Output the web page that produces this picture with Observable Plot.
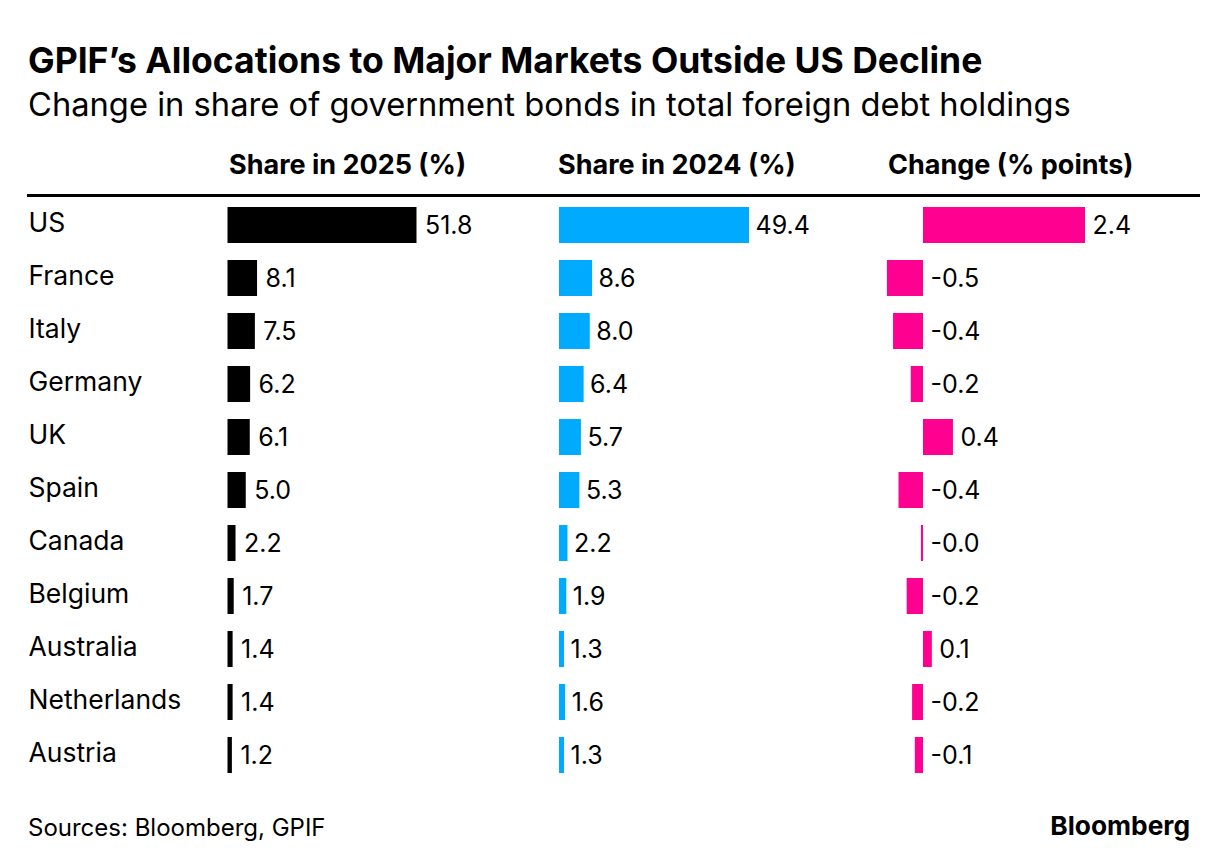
<!DOCTYPE html>
<html>
<head>
<meta charset="utf-8">
<script src="https://cdn.jsdelivr.net/npm/d3@7"></script>
<script src="https://cdn.jsdelivr.net/npm/@observablehq/plot@0.6"></script>
<style>
  html, body { margin: 0; padding: 0; background: #fff; }
  body { width: 1228px; height: 868px; position: relative; overflow: hidden;
         font-family: Inter, "Liberation Sans", Arial, sans-serif; color: #000; }
  .abs { position: absolute; white-space: nowrap; }
  #title { left: 28px; top: 43px; font-size: 35.5px; line-height: 35.5px; font-weight: bold; }
  #subtitle { left: 28px; top: 88px; font-size: 32.7px; line-height: 32.7px; }
  .colhead { top: 151px; font-size: 27px; line-height: 27px; font-weight: bold; }
  #rule { left: 27px; top: 194px; width: 1173px; height: 3px; background: #000; }
  #source { left: 28px; top: 816px; font-size: 24px; line-height: 24px; }
  #brand { right: 38px; top: 813px; font-size: 26.3px; line-height: 26.3px; font-weight: bold; }
  .plotbox { position: absolute; top: 197px; }
</style>
</head>
<body>
<div id="title" class="abs">GPIF’s Allocations to Major Markets Outside US Decline</div>
<div id="subtitle" class="abs">Change in share of government bonds in total foreign debt holdings</div>
<div class="abs colhead" style="left:229px">Share in 2025 (%)</div>
<div class="abs colhead" style="left:558px">Share in 2024 (%)</div>
<div class="abs colhead" style="left:888px">Change (% points)</div>
<div id="rule" class="abs"></div>
<div id="p1" class="plotbox" style="left:0px"></div>
<div id="p2" class="plotbox" style="left:530px"></div>
<div id="p3" class="plotbox" style="left:860px"></div>
<div id="source" class="abs">Sources: Bloomberg, GPIF</div>
<div id="brand" class="abs">Bloomberg</div>
<script>
const countries = ["US","France","Italy","Germany","UK","Spain","Canada","Belgium","Australia","Netherlands","Austria"];
const share2025 = [51.8, 8.1, 7.5, 6.2, 6.1, 5.0, 2.2, 1.7, 1.4, 1.4, 1.2];
const share2024 = [49.4, 8.6, 8.0, 6.4, 5.7, 5.3, 2.2, 1.9, 1.3, 1.6, 1.3];
const change    = [2.38, -0.53, -0.44, -0.18, 0.44, -0.36, -0.03, -0.24, 0.13, -0.16, -0.12];

const rows = countries.map((c, i) => ({country: c, s25: share2025[i], s24: share2024[i], chg: change[i]}));
const fmt = v => v.toFixed(1);
const H = 600;
const yScale = {domain: countries, range: [2, 585], paddingInner: 0.32, paddingOuter: 0.16, axis: null};
const style = {fontFamily: "Inter, 'Liberation Sans', Arial, sans-serif", background: "transparent", overflow: "visible"};

const p1 = Plot.plot({
  width: 530, height: H, style,
  x: {domain: [0, 51.8], range: [227.5, 416.5], axis: null},
  y: yScale,
  marks: [
    Plot.barX(rows, {x: "s25", y: "country", fill: "#000"}),
    Plot.text(rows, {x: "s25", y: "country", text: d => fmt(d.s25), dx: 8, textAnchor: "start", fontSize: 25, fill: "#000"}),
    Plot.text(rows, {x: 0, y: "country", text: "country", dx: -199.5, dy: -1.5, textAnchor: "start", fontSize: 26.5, fill: "#000"})
  ]
});
document.getElementById("p1").appendChild(p1);

const p2 = Plot.plot({
  width: 330, height: H, style,
  x: {domain: [0, 49.4], range: [29, 219], axis: null},
  y: yScale,
  marks: [
    Plot.barX(rows, {x: "s24", y: "country", fill: "#00aaff"}),
    Plot.text(rows, {x: "s24", y: "country", text: d => fmt(d.s24), dx: 6, textAnchor: "start", fontSize: 25, fill: "#000"})
  ]
});
document.getElementById("p2").appendChild(p2);

const p3 = Plot.plot({
  width: 368, height: H, style,
  x: {domain: [0, 2.38], range: [63, 225], axis: null},
  y: yScale,
  marks: [
    Plot.barX(rows, {x: "chg", y: "country", fill: "#ff0090"}),
    Plot.ruleX(rows, {x: 0, y: "country", stroke: "#000", strokeWidth: 1.6, insetTop: -3, insetBottom: -3}),
    Plot.text(rows, {x: d => Math.max(0, d.chg), y: "country", text: d => fmt(d.chg), dx: 7, textAnchor: "start", fontSize: 25, fill: "#000"})
  ]
});
document.getElementById("p3").appendChild(p3);
</script>
</body>
</html>
